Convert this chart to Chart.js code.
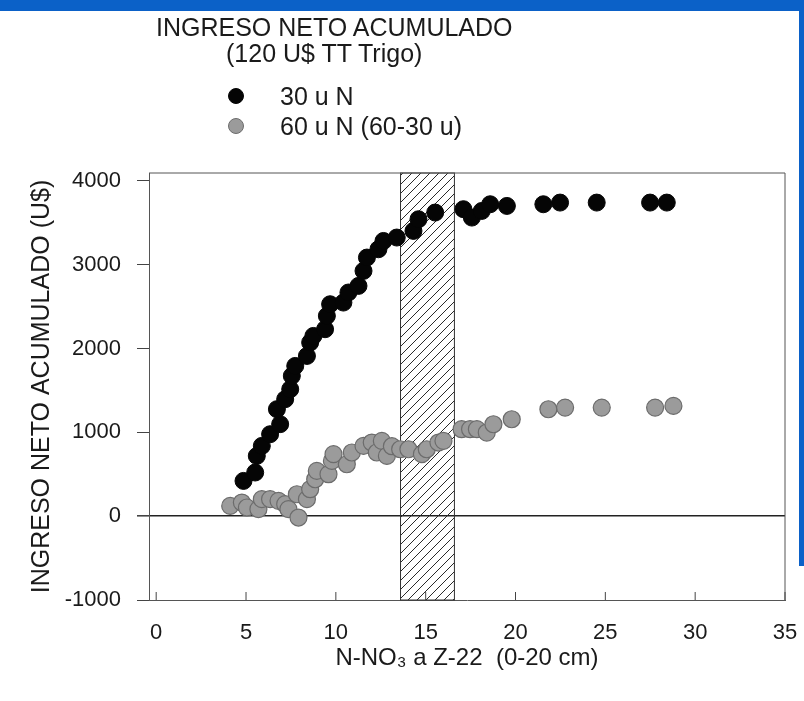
<!DOCTYPE html>
<html lang="es">
<head>
<meta charset="utf-8">
<title>Ingreso neto acumulado</title>
<script src="https://cdn.jsdelivr.net/npm/chart.js@4.4.1/dist/chart.umd.min.js"></script>
<style>
  body { margin: 0; background: #fff; }
  #page { position: relative; width: 804px; height: 701px; overflow: hidden; background: #fff;
          font-family: 'Liberation Sans', Arial, sans-serif; color: #1a1a1a; }
  #barTop { position: absolute; left: 0; top: 0; width: 804px; height: 11px; background: #0b61c8; }
  #barRight { position: absolute; left: 799px; top: 0; width: 5px; height: 566px; background: #0b61c8; }
  #chart { position: absolute; left: 0; top: 0; }
  .head { position: absolute; font-size: 25px; line-height: 1; white-space: nowrap; }
  #title { left: 156px; top: 15px; }
  #subtitle { left: 226px; top: 41px; }
  #legend { position: absolute; left: 228px; top: 81px; font-size: 25px; line-height: 30px; white-space: nowrap; }
  .item { display: flex; align-items: center; height: 30px; }
  .dot { width: 16px; height: 16px; border-radius: 50%; margin-right: 36px; box-sizing: border-box; }
</style>
</head>
<body>
<div id="page">
  <canvas id="chart" width="804" height="701"></canvas>
  <div id="barTop"></div>
  <div id="barRight"></div>
  <div class="head" id="title">INGRESO NETO ACUMULADO</div>
  <div class="head" id="subtitle">(120 U$ TT Trigo)</div>
  <div id="legend"></div>
</div>
<script>
// Serie 30 u N (puntos negros)
const n30X = [4.86, 5.51, 5.60, 5.88, 6.34, 6.90, 6.72, 7.18, 7.46, 7.55, 7.74, 8.39, 8.57, 8.75,
              9.40, 9.50, 9.68, 10.42, 10.70, 11.26, 11.54, 11.73, 12.37, 12.65, 13.39, 14.32,
              14.60, 15.53, 17.10, 17.57, 18.12, 18.59, 19.52, 21.55, 22.48, 24.52, 27.49, 28.42];
const n30Y = [421, 521, 719, 839, 978, 1098, 1277, 1396, 1515, 1674, 1793, 1912, 2072, 2151,
              2231, 2390, 2529, 2549, 2669, 2748, 2927, 3086, 3185, 3284, 3325, 3404,
              3543, 3623, 3663, 3563, 3642, 3722, 3702, 3722, 3742, 3742, 3742, 3742];

// Serie 60 u N (60-30 u) (puntos grises)
const n60X = [4.12, 4.77, 5.05, 5.69, 5.88, 6.34, 6.81, 7.18, 7.36, 7.92, 7.83, 8.39, 8.57, 8.85,
              8.94, 9.59, 9.78, 9.87, 10.61, 10.89, 11.54, 12.00, 12.28, 12.56, 12.84, 13.12,
              13.58, 14.04, 14.79, 15.06, 15.71, 15.99, 17.00, 17.47, 17.85, 18.40, 18.77, 19.79,
              21.83, 22.76, 24.80, 27.77, 28.79];
const n60Y = [123, 163, 104, 84, 203, 203, 183, 143, 84, -16, 262, 203, 322, 441,
              540, 501, 660, 740, 620, 760, 839, 879, 760, 898, 719, 835,
              799, 799, 740, 799, 879, 898, 1038, 1038, 1038, 998, 1097, 1157,
              1276, 1296, 1296, 1296, 1316];

// Franja rayada (rango de N-NO3)
const hatchBand = [13.6, 16.6];

// Ejes
const xTicks = [0, 5, 10, 15, 20, 25, 30, 35];
const xTickLabels = ['0', '5', '10', '15', '20', '25', '30', '35'];
const yTicks = [-1000, 0, 1000, 2000, 3000, 4000];
const yTickLabels = ['-1000', '0', '1000', '2000', '3000', '4000'];

const seriesLabels = ['30 u N', '60 u N (60-30 u)'];
const seriesFill = ['#050505', '#9b9b9b'];
const seriesBorder = ['#050505', '#6c6c6c'];

function toPoints(xs, ys) {
  return xs.map((x, i) => ({ x: x, y: ys[i] }));
}

// Leyenda en HTML a partir de las series
const legendEl = document.getElementById('legend');
seriesLabels.forEach((label, i) => {
  const row = document.createElement('div');
  row.className = 'item';
  row.innerHTML = `<span class="dot" style="background:${seriesFill[i]};border:1.5px solid ${seriesBorder[i]}"></span><span>${label}</span>`;
  legendEl.appendChild(row);
});

// Patrón de rayas diagonales
function makeHatch(ctx) {
  const c = document.createElement('canvas');
  c.width = 9; c.height = 9;
  const p = c.getContext('2d');
  p.strokeStyle = '#2a2a2a';
  p.lineWidth = 1;
  p.beginPath();
  p.moveTo(0, 9); p.lineTo(9, 0);
  p.moveTo(-1, 1); p.lineTo(1, -1);
  p.moveTo(8, 10); p.lineTo(10, 8);
  p.stroke();
  return ctx.createPattern(c, 'repeat');
}

const bandPlugin = {
  id: 'band',
  beforeDatasetsDraw(chart) {
    const { ctx, chartArea, scales } = chart;
    const x0 = scales.x.getPixelForValue(hatchBand[0]);
    const x1 = scales.x.getPixelForValue(hatchBand[1]);
    ctx.save();
    ctx.fillStyle = makeHatch(ctx);
    ctx.fillRect(x0, chartArea.top, x1 - x0, chartArea.bottom - chartArea.top);
    ctx.strokeStyle = '#333';
    ctx.lineWidth = 1;
    ctx.strokeRect(x0, chartArea.top, x1 - x0, chartArea.bottom - chartArea.top);
    // marco superior y derecho
    ctx.strokeStyle = '#555';
    ctx.beginPath();
    ctx.moveTo(chartArea.left, chartArea.top);
    ctx.lineTo(chartArea.right, chartArea.top);
    ctx.lineTo(chartArea.right, chartArea.bottom);
    ctx.stroke();
    // marcas del eje x hacia dentro
    ctx.strokeStyle = '#444';
    scales.x.ticks.forEach(t => {
      const px = scales.x.getPixelForValue(t.value);
      ctx.beginPath();
      ctx.moveTo(px, chartArea.bottom);
      ctx.lineTo(px, chartArea.bottom - 8);
      ctx.stroke();
    });
    ctx.restore();
  }
};

Chart.defaults.font.family = "'Liberation Sans', Arial, sans-serif";
Chart.defaults.color = '#1a1a1a';

const ctx = document.getElementById('chart').getContext('2d');
new Chart(ctx, {
  type: 'scatter',
  data: {
    datasets: [
      {
        label: seriesLabels[0],
        data: toPoints(n30X, n30Y),
        backgroundColor: seriesFill[0],
        borderColor: seriesBorder[0],
        borderWidth: 1,
        pointRadius: 8.5
      },
      {
        label: seriesLabels[1],
        data: toPoints(n60X, n60Y),
        backgroundColor: seriesFill[1],
        borderColor: seriesBorder[1],
        borderWidth: 1.2,
        pointRadius: 8.5
      }
    ]
  },
  options: {
    responsive: false,
    animation: false,
    layout: { padding: { top: 173, right: 19, left: 0, bottom: 0 } },
    plugins: { legend: { display: false }, tooltip: { enabled: false } },
    scales: {
      x: {
        type: 'linear',
        min: -0.4,
        max: 35,
        afterBuildTicks: s => { s.ticks = xTicks.map(v => ({ value: v })); },
        afterFit: s => { s.height = 101; s.paddingLeft = 0; s.paddingRight = 0; },
        grid: { drawOnChartArea: false, drawTicks: false },
        border: { color: '#555', width: 1 },
        ticks: {
          font: { size: 22 },
          padding: 20,
          maxRotation: 0,
          callback: (v, i) => xTickLabels[i]
        },
        title: {
          display: true,
          text: 'N-NO\u2083 a Z-22  (0-20 cm)',
          font: { size: 24 },
          padding: { top: 0, bottom: 28 }
        }
      },
      y: {
        min: -1000,
        max: 4095,
        afterBuildTicks: s => { s.ticks = yTicks.map(v => ({ value: v })); },
        afterFit: s => { s.width = 149; s.paddingTop = 0; s.paddingBottom = 0; },
        grid: {
          color: c => (c.tick && c.tick.value === 0 ? '#222' : 'rgba(0,0,0,0)'),
          lineWidth: c => (c.tick && c.tick.value === 0 ? 1.6 : 1),
          tickColor: '#444',
          tickLength: 12
        },
        border: { color: '#555', width: 1 },
        ticks: {
          font: { size: 22 },
          padding: 16,
          callback: (v, i) => yTickLabels[i]
        },
        title: {
          display: true,
          text: 'INGRESO NETO ACUMULADO (U$)',
          font: { size: 25 },
          padding: { top: 27, bottom: 0 }
        }
      }
    }
  },
  plugins: [bandPlugin]
});
</script>
</body>
</html>
